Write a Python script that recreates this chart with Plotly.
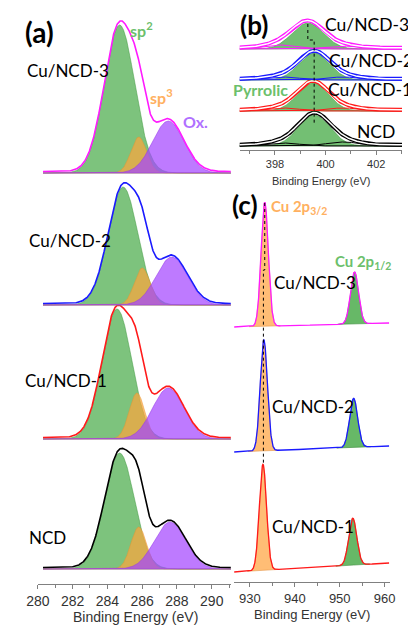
import numpy as np
import plotly.graph_objects as go

W, H = 408, 626

# ---------------- Panel (a): C 1s ----------------
a_samples = ["NCD", "Cu/NCD-1", "Cu/NCD-2", "Cu/NCD-3"]
a_colors = ["black", "#ff1a1a", "#1a1aff", "#ff1aff"]
a_offsets = [15, 145, 279, 411]
a_sp2_center = [284.7, 284.55, 284.9, 284.7]
a_sp2_height = [116, 130, 118, 148]
a_sp2_sigma = [0.85, 0.85, 0.85, 0.87]
a_sp3_center = [285.8, 285.7, 286.0, 285.8]
a_sp3_height = [42, 46, 37, 36]
a_sp3_sigma = [0.45, 0.45, 0.45, 0.45]
a_ox_center = [287.6, 287.5, 287.7, 287.5]
a_ox_height = [47, 51, 48, 52]
a_ox_sigma = [0.9, 0.9, 0.9, 0.9]

# ---------------- Panel (b): N 1s ----------------
b_samples = ["NCD", "Cu/NCD-1", "Cu/NCD-2", "Cu/NCD-3"]
b_colors = ["black", "#ff1a1a", "#1a1aff", "#ff1aff"]
b_offsets = [4, 39, 70, 101]
b_pyr_center = [399.55, 399.5, 399.55, 399.3]
b_pyr_height = [31, 28, 27, 26]
b_pyr_sigma = [0.62, 0.6, 0.6, 0.62]
b_pyd_center = [398.3, 398.3, 398.3, 398.2]
b_pyd_height = [3, 3, 3, 4]
b_gra_center = [400.7, 400.7, 400.7, 400.6]
b_gra_height = [4, 3, 3, 3]
b_side_sigma = [0.65, 0.65, 0.65, 0.65]
b_shift_x = [399.3, 399.55]        # dotted guide positions
b_shift_y = [126, 110, 26]          # dotted guide levels

# ---------------- Panel (c): Cu 2p ----------------
c_samples = ["Cu/NCD-1", "Cu/NCD-2", "Cu/NCD-3"]
c_colors = ["#ff1a1a", "#1a1aff", "#ff1aff"]
c_base_left = [10, 130, 255]
c_base_right = [19, 136, 259]
c_p32_center = [932.9, 933.1, 933.3]
c_p32_height = [106, 111, 124]
c_p32_sigma = [0.8, 0.8, 0.8]
c_p12_center = [952.9, 953.1, 953.3]
c_p12_height = [47, 49, 52]
c_p12_sigma = [0.9, 0.9, 0.9]
c_guide_x = [933.3, 933.0]
c_guide_y = [379, 312, 117]


def gauss(x, c, h, s):
    return h * np.exp(-((x - c) ** 2) / (2 * s * s))


fig = go.Figure()

LBL = "Lato, 'Open Sans', sans-serif"
TCK = "'Liberation Sans', Arial, sans-serif"


def fill_trace(x, base, top, color, xa, ya, lw=0.6, lc=None):
    xs = np.concatenate([x, x[::-1]])
    ys = np.concatenate([top, base[::-1]])
    return go.Scatter(x=xs, y=ys, fill="toself", fillcolor=color, mode="lines",
                      line=dict(color=lc or color, width=lw), xaxis=xa, yaxis=ya,
                      hoverinfo="skip", showlegend=False)


# panel (a)
xa = np.linspace(280.3, 291.1, 600)
GREEN_A = "rgba(70,170,70,0.7)"
ORANGE_A = "rgba(255,165,60,0.7)"
PURPLE_A = "rgba(165,70,255,0.72)"
for i in range(4):
    off = a_offsets[i]
    base = np.full_like(xa, off)
    g1 = gauss(xa, a_sp2_center[i], a_sp2_height[i], a_sp2_sigma[i])
    g2 = gauss(xa, a_sp3_center[i], a_sp3_height[i], a_sp3_sigma[i])
    g3 = gauss(xa, a_ox_center[i], a_ox_height[i], a_ox_sigma[i])
    fig.add_trace(fill_trace(xa, base, off + g1, GREEN_A, "x", "y", lc="rgba(60,150,60,0.8)"))
    fig.add_trace(fill_trace(xa, base, off + g2, ORANGE_A, "x", "y", lc="rgba(230,150,50,0.8)"))
    fig.add_trace(fill_trace(xa, base, off + g3, PURPLE_A, "x", "y", lc="rgba(150,60,230,0.9)"))
    env = off + g1 + g2 + g3
    fig.add_trace(go.Scatter(x=xa, y=env + 1.5, mode="lines", line=dict(color=a_colors[i], width=1.6),
                             xaxis="x", yaxis="y", showlegend=False, hoverinfo="skip"))

# panel (b)
xb = np.linspace(396.6, 403.1, 500)
GREEN_B = "rgba(80,175,80,0.8)"
for i in range(4):
    off = b_offsets[i]
    base = np.full_like(xb, off)
    p = gauss(xb, b_pyr_center[i], b_pyr_height[i], b_pyr_sigma[i])
    d = gauss(xb, b_pyd_center[i], b_pyd_height[i], b_side_sigma[i])
    g = gauss(xb, b_gra_center[i], b_gra_height[i], b_side_sigma[i])
    fig.add_trace(fill_trace(xb, base, off + p, GREEN_B, "x2", "y2", lc="rgba(60,150,60,0.9)"))
    for comp in (d, g):
        fig.add_trace(go.Scatter(x=xb, y=off + comp, mode="lines", line=dict(color=b_colors[i], width=1),
                                 xaxis="x2", yaxis="y2", showlegend=False, hoverinfo="skip"))
    env = off + p + d + g
    fig.add_trace(go.Scatter(x=xb, y=env + 1.2, mode="lines", line=dict(color=b_colors[i], width=4),
                             xaxis="x2", yaxis="y2", showlegend=False, hoverinfo="skip"))
    fig.add_trace(go.Scatter(x=xb, y=env + 1.2, mode="lines", line=dict(color="white", width=1.5),
                             xaxis="x2", yaxis="y2", showlegend=False, hoverinfo="skip"))

fig.add_trace(go.Scatter(x=[b_shift_x[0], b_shift_x[0], b_shift_x[1], b_shift_x[1]],
                         y=[b_shift_y[0], b_shift_y[1], b_shift_y[1], b_shift_y[2]],
                         mode="lines", line=dict(color="black", width=1, dash="dot"),
                         xaxis="x2", yaxis="y2", showlegend=False, hoverinfo="skip"))

# panel (c)
xc = np.linspace(926.5, 961.0, 800)
ORANGE_C = "rgba(255,185,110,0.95)"
GREEN_C = "rgba(95,180,95,0.95)"
for i in range(3):
    base = c_base_left[i] + (c_base_right[i] - c_base_left[i]) * (xc - xc[0]) / (xc[-1] - xc[0])
    p32 = gauss(xc, c_p32_center[i], c_p32_height[i], c_p32_sigma[i])
    p12 = gauss(xc, c_p12_center[i], c_p12_height[i], c_p12_sigma[i])
    m1 = (xc > c_p32_center[i] - 3.5) & (xc < c_p32_center[i] + 3.5)
    m2 = (xc > c_p12_center[i] - 3.8) & (xc < c_p12_center[i] + 3.8)
    fig.add_trace(fill_trace(xc[m1], base[m1], base[m1] + p32[m1], ORANGE_C, "x3", "y3", lc="rgba(230,150,70,1)"))
    fig.add_trace(fill_trace(xc[m2], base[m2], base[m2] + p12[m2], GREEN_C, "x3", "y3", lc="rgba(60,140,60,1)"))
    fig.add_trace(go.Scatter(x=xc, y=base + p32 + p12, mode="lines", line=dict(color=c_colors[i], width=1.3),
                             xaxis="x3", yaxis="y3", showlegend=False, hoverinfo="skip"))

fig.add_trace(go.Scatter(x=[c_guide_x[0], c_guide_x[0], c_guide_x[1], c_guide_x[1]],
                         y=[c_guide_y[0], c_guide_y[1], c_guide_y[1], c_guide_y[2]],
                         mode="lines", line=dict(color="black", width=1, dash="dot"),
                         xaxis="x3", yaxis="y3", showlegend=False, hoverinfo="skip"))


def px(x0, x1):
    return [x0 / W, x1 / W]


def py(top, bottom):
    return [1 - bottom / H, 1 - top / H]


def xaxis_style(rng, dom, anchor, dtick, tick0, mdtick, fs):
    return dict(range=rng, domain=dom, anchor=anchor, dtick=dtick, tick0=tick0,
                showgrid=False, zeroline=False, showline=True, linecolor="#808080", linewidth=1,
                ticks="outside", ticklen=4, tickcolor="#808080", tickwidth=1,
                minor=dict(dtick=mdtick, ticks="outside", ticklen=3, tickcolor="#808080", showgrid=False),
                tickfont=dict(family=TCK, size=fs, color="#333"), fixedrange=True)


def yaxis_style(rng, dom, anchor):
    return dict(range=rng, domain=dom, anchor=anchor, visible=False, fixedrange=True)


fig.update_layout(
    width=W, height=H, margin=dict(l=0, r=0, t=0, b=0),
    paper_bgcolor="white", plot_bgcolor="rgba(0,0,0,0)", showlegend=False,
    xaxis=xaxis_style([280, 291.1], px(27, 229), "y", 2, 280, 1, 14),
    yaxis=yaxis_style([0, 584], py(0, 584), "x"),
    xaxis2=xaxis_style([396.6, 403.02], px(238, 408), "y2", 2, 398, 1, 11),
    yaxis2=yaxis_style([0, 150], py(0, 150), "x2"),
    xaxis3=xaxis_style([926.4, 961.1], px(232, 395), "y3", 10, 930, 5, 13),
    yaxis3=yaxis_style([0, 387], py(195, 582), "x3"),
)


def ann(text, x, y, size, color="black", bold=False, xanchor="left", family=LBL):
    t = f"<b>{text}</b>" if bold else text
    fig.add_annotation(text=t, x=x / W, y=1 - y / H, xref="paper", yref="paper", showarrow=False,
                       xanchor=xanchor, yanchor="middle",
                       font=dict(family=family, size=size, color=color))


# axis titles
ann("Binding Energy (eV)", 129, 617, 14, "#333", xanchor="center", family=TCK)
ann("Binding Energy (eV)", 323, 181, 11, "#333", xanchor="center", family=TCK)
ann("Binding Energy (eV)", 314, 614, 13, "#333", xanchor="center", family=TCK)

# panel (a) labels
ann("(a)", 12, 32, 28, bold=True)
ann("sp<sup>2</sup>", 121, 30, 16, "#6cc06c", bold=True)
ann("sp<sup>3</sup>", 142, 97, 16, "#ffb060", bold=True)
ann("Ox.", 177, 122, 16, "#b070ff", bold=True)
ann("Cu/NCD-3", 14, 70, 17)
ann("Cu/NCD-2", 16, 240, 17)
ann("Cu/NCD-1", 12, 380, 17)
ann("NCD", 16, 537, 17)

# panel (b) labels
ann("(b)", 236, 25, 26, bold=True)
ann("Cu/NCD-3", 325, 24, 17.5)
ann("Cu/NCD-2", 330, 60, 17.5)
ann("Cu/NCD-1", 328, 90, 17.5)
ann("NCD", 359, 132, 17.5)
ann("Pyrrolic", 229, 89, 16, "#6cc06c", bold=True)

# panel (c) labels
ann("(c)", 228, 205, 26, bold=True)
ann("Cu 2p<sub>3/2</sub>", 269, 207, 15, "#ffb060", bold=True)
ann("Cu 2p<sub>1/2</sub>", 336, 262, 15, "#6cc06c", bold=True)
ann("Cu/NCD-3", 272, 282, 17)
ann("Cu/NCD-2", 270, 407, 17)
ann("Cu/NCD-1", 270, 526, 17)

fig.write_html("out.html", config={"displayModeBar": False, "staticPlot": True},
               post_script="document.body.style.margin='0';")
